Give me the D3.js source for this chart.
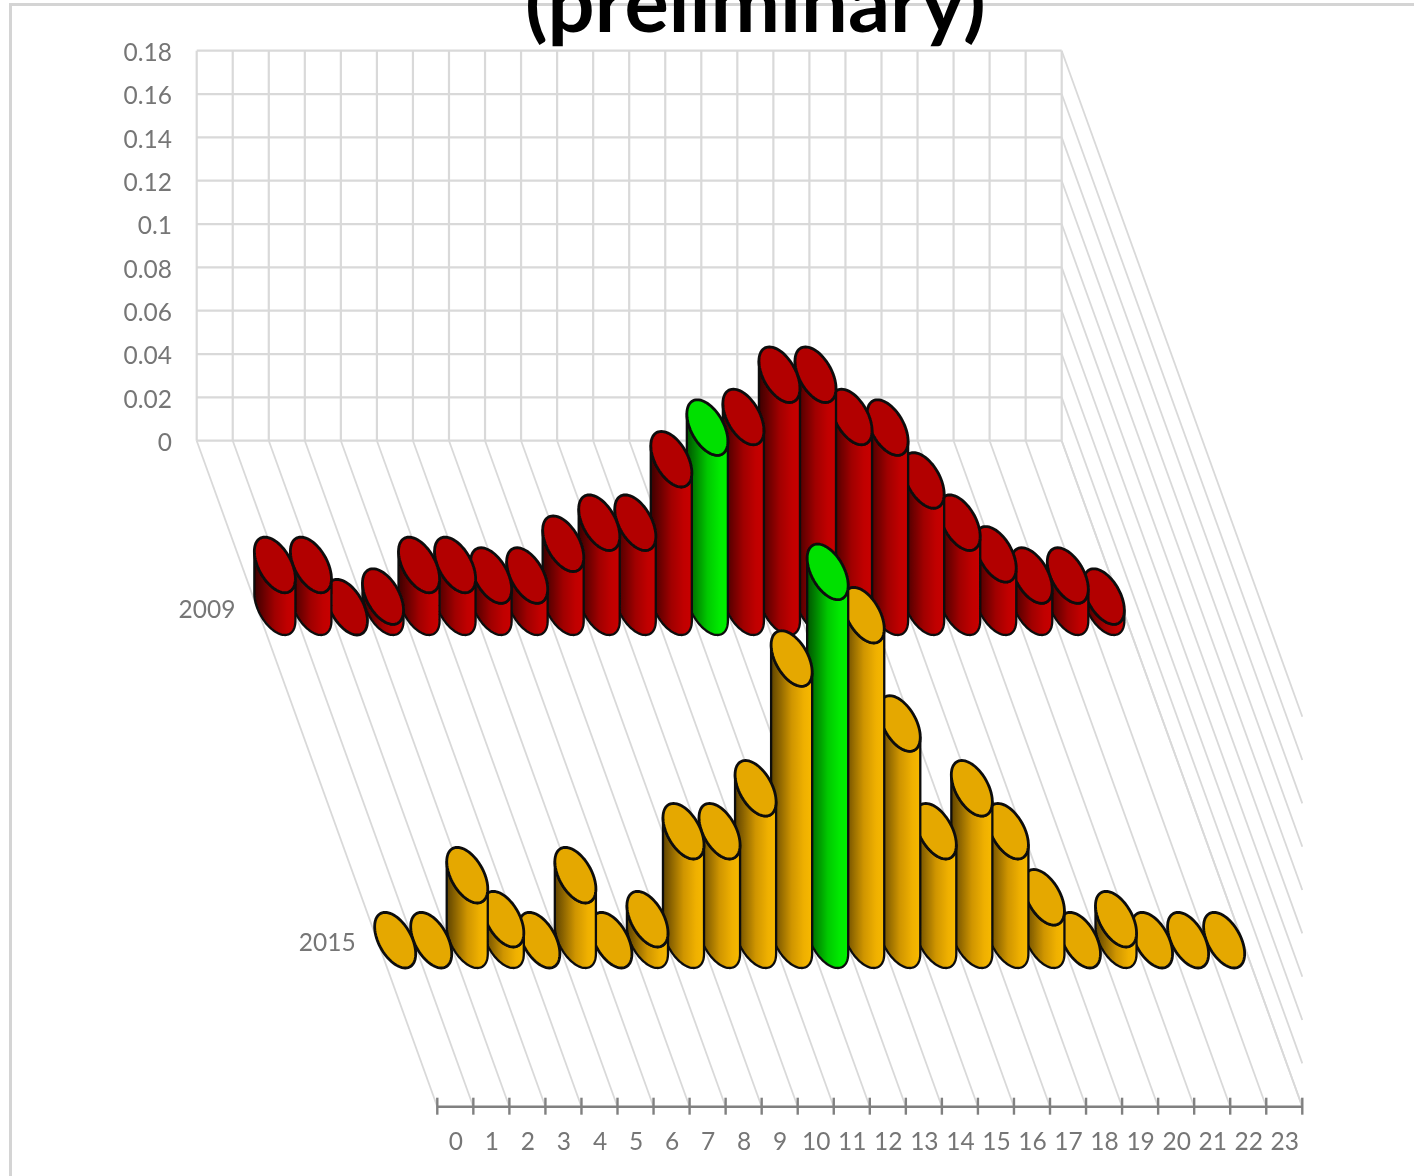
<!DOCTYPE html>
<html><head><meta charset="utf-8">
<style>html,body{margin:0;padding:0;background:#fff;overflow:hidden}svg{display:block}text{font-family:Lato,"Open Sans",sans-serif}</style>
<script src="https://cdn.jsdelivr.net/npm/d3@7"></script>
</head><body><svg id="c" width="1414" height="1176"></svg>
<script>
const hours = d3.range(0, 24).map(String);
const years = ["2009", "2015"];
const valueTicks = [0, 0.02, 0.04, 0.06, 0.08, 0.1, 0.12, 0.14, 0.16, 0.18];
const values2009 = [0.0195,0.0195,0,0.0049,0.0195,0.0195,0.0146,0.0146,0.0293,0.039,0.039,0.0683,0.0829,0.0878,0.1073,0.1073,0.0878,0.0829,0.0585,0.039,0.0244,0.0146,0.0146,0.0049];
const values2015 = [0,0,0.03,0.0097,0,0.03,0,0.0097,0.0503,0.0503,0.0701,0.13,0.17,0.15,0.1,0.0503,0.0701,0.0503,0.0198,0,0.0097,0,0,0];
const highlight2009 = 12, highlight2015 = 12;
const titleText = "(preliminary)";

const root = d3.select("#c");
const defs = root.append("defs");
defs.append("filter").attr("id", "soft").attr("x", 0).attr("y", 0).attr("width", 1).attr("height", 1)
  .attr("filterUnits", "userSpaceOnUse").attr("x", 0).attr("y", 0).attr("width", 1414).attr("height", 1176)
  .append("feGaussianBlur").attr("stdDeviation", 0.55);
root.append("rect").attr("width", 1414).attr("height", 1176).attr("fill", "#fff");
const svg = root.append("g").attr("filter", "url(#soft)");

const X0 = 196.7, X1 = 1061.7, Y0 = 440.7, Y18 = 50.7, SX = 240.6, SY = 666;
const x = d3.scaleBand().domain(hours).range([X0, X1]);
const xEdge = d3.scaleLinear().domain([0, 24]).range([X0, X1]);
const y = d3.scaleLinear().domain([0, 0.18]).range([Y0, Y18]);
const z = d3.scaleBand().domain(years).range([0, 1]);

// frame: left and top edges only, the rest runs off the page
svg.append("path").attr("d", d3.line()([[10.5, 1176], [10.5, 4.5], [1414, 4.5]]))
  .attr("fill", "none").attr("stroke", "#d4d4d4").attr("stroke-width", 3);

const grid = svg.append("g").attr("stroke", "#d9d9d9").attr("fill", "none");
grid.selectAll(".h").data(valueTicks).join("line")
  .attr("x1", X0).attr("x2", X1).attr("y1", d => y(d)).attr("y2", d => y(d)).attr("stroke-width", 2.2);
grid.selectAll(".v").data(d3.range(0, 25)).join("line")
  .attr("x1", d => xEdge(d)).attr("x2", d => xEdge(d)).attr("y1", Y18).attr("y2", Y0).attr("stroke-width", 2.2);
grid.selectAll(".f").data(d3.range(0, 25)).join("line")
  .attr("x1", d => xEdge(d)).attr("y1", Y0).attr("x2", d => xEdge(d) + SX).attr("y2", Y0 + SY).attr("stroke-width", 1.8);
grid.selectAll(".s").data(valueTicks).join("line")
  .attr("x1", X1).attr("y1", d => y(d)).attr("x2", X1 + SX).attr("y2", d => y(d) + SY).attr("stroke-width", 1.8);

function grad(id, stops) {
  const g = defs.append("linearGradient").attr("id", id).attr("x1", 0).attr("x2", 1).attr("y1", 0).attr("y2", 0);
  stops.forEach(s => g.append("stop").attr("offset", s[0]).attr("stop-color", s[1]));
}
grad("gRed", [[0, "#3c0000"], [0.5, "#a00000"], [0.8, "#c00000"], [1, "#c80000"]]);
grad("gGold", [[0, "#5e4300"], [0.5, "#cf9500"], [0.8, "#efb000"], [1, "#f7b900"]]);
grad("gGreen", [[0, "#005400"], [0.5, "#00c800"], [0.8, "#00ea00"], [1, "#00f000"]]);

const Rx = 17.9, Rz = 27.8, KZ = SX / SY * Rz;
const t0 = Math.atan2(KZ, Rx);
function pt(cx, cy, t) { return [cx + Rx * Math.cos(t) + KZ * Math.sin(t), cy + Rz * Math.sin(t)]; }
function ellipsePath(cx, cy) {
  const p = d3.path();
  d3.range(0, 73).forEach(i => { const q = pt(cx, cy, i / 72 * 2 * Math.PI); i ? p.lineTo(q[0], q[1]) : p.moveTo(q[0], q[1]); });
  p.closePath();
  return p.toString();
}
function sidePath(cx, cyBase, cyTop) {
  const p = d3.path();
  const tl = pt(cx, cyTop, t0 + Math.PI);
  p.moveTo(tl[0], tl[1]);
  for (let i = 0; i <= 48; i++) { const q = pt(cx, cyBase, t0 + Math.PI - i / 48 * Math.PI); p.lineTo(q[0], q[1]); }
  const tr = pt(cx, cyTop, t0);
  p.lineTo(tr[0], tr[1]);
  for (let i = 0; i <= 48; i++) { const q = pt(cx, cyTop, t0 + i / 48 * Math.PI); p.lineTo(q[0], q[1]); }
  p.closePath();
  return p.toString();
}

function drawSeries(year, vals, hi, side, top) {
  const zc = z(year) + z.bandwidth() / 2;
  const g = svg.append("g");
  const rows = hours.map((h, i) => ({ h, i, v: vals[i] })).reverse();
  const cyl = g.selectAll("g").data(rows).join("g");
  const cx = d => x(d.h) + x.bandwidth() / 2 + SX * zc;
  cyl.filter(d => d.v > 0).append("path")
    .attr("d", d => sidePath(cx(d), Y0 + SY * zc, y(d.v) + SY * zc))
    .attr("fill", d => d.i === hi ? "url(#gGreen)" : `url(#${side})`)
    .attr("stroke", "#0c0c0c").attr("stroke-width", 2.3).attr("stroke-linejoin", "round");
  cyl.append("path")
    .attr("d", d => ellipsePath(cx(d), y(d.v) + SY * zc))
    .attr("fill", d => d.i === hi ? "#00e000" : top)
    .attr("stroke", "#0c0c0c").attr("stroke-width", 2.8);
}
drawSeries("2009", values2009, highlight2009, "gRed", "#b20000");
drawSeries("2015", values2015, highlight2015, "gGold", "#e5a800");

const TXT = "#767676", FS = 24.5;
svg.append("g").selectAll("text").data(valueTicks).join("text")
  .attr("x", 172).attr("y", d => y(d) + 1.5).attr("dy", "0.36em").attr("text-anchor", "end")
  .attr("font-size", FS).attr("fill", TXT).text(d => d);

svg.append("g").selectAll("text").data(years).join("text")
  .attr("x", d => X0 + SX * (z(d) + z.bandwidth() / 2) - 21.5)
  .attr("y", d => Y0 + SY * (z(d) + z.bandwidth() / 2) + 1.5).attr("dy", "0.36em").attr("text-anchor", "end")
  .attr("font-size", FS).attr("fill", TXT).text(d => d);

const ax = svg.append("g").attr("stroke", "#808080");
ax.append("line").attr("x1", X0 + SX).attr("x2", X1 + SX).attr("y1", Y0 + SY).attr("y2", Y0 + SY).attr("stroke-width", 2.4);
ax.selectAll(".t").data(d3.range(0, 25)).join("line")
  .attr("x1", d => xEdge(d) + SX).attr("x2", d => xEdge(d) + SX)
  .attr("y1", Y0 + SY - 9).attr("y2", Y0 + SY + 8).attr("stroke-width", 2.4);
svg.append("g").selectAll("text").data(hours).join("text")
  .attr("x", d => x(d) + x.bandwidth() / 2 + SX + 0.5).attr("y", 1141).attr("dy", "0.36em").attr("text-anchor", "middle")
  .attr("font-size", FS).attr("fill", TXT).text(d => d);

svg.append("text").attr("x", 755.5).attr("y", 32).attr("text-anchor", "middle")
  .attr("font-size", 83).attr("font-weight", 700).attr("fill", "#000").text(titleText);
</script></body></html>
